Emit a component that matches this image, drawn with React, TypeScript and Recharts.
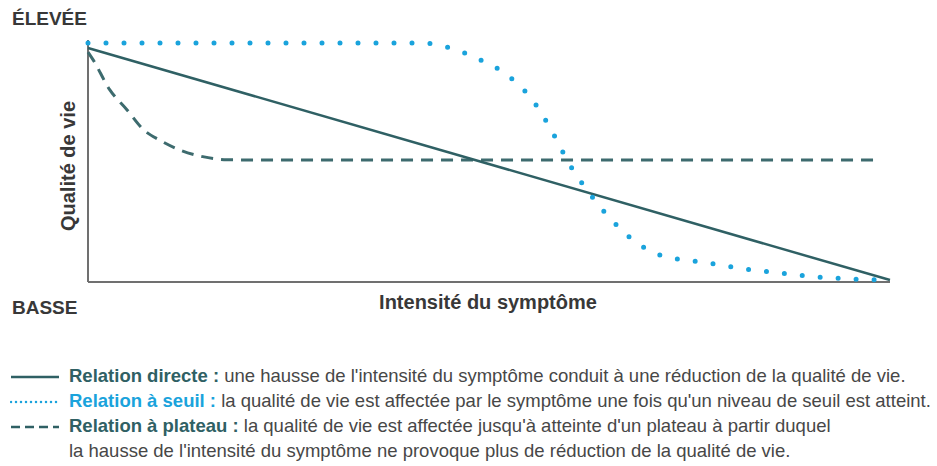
import React from 'react';
import { LineChart, Line, XAxis, YAxis, ReferenceLine } from 'recharts';

// Relation directe (solid)
const directX = [0, 100];
const directY = [96.7, 0.8];

// Relation à plateau (dashed)
const plateauX = [0, 0.6, 2.7, 4.9, 6.9, 9, 11.5, 14.3, 17.3, 22, 98];
const plateauY = [95, 92, 79.5, 71, 63, 58.5, 54.5, 51.8, 50.5, 50.4, 50.4];

// Relation à seuil (dotted)
const seuilX = [0, 41.4, 45.1, 48.9, 52.6, 55.6, 57.9, 60, 62.5, 65.3, 68.8, 71.3, 77.4, 81.9, 86.4, 90.9, 95.4, 100];
const seuilY = [98.8, 98.8, 96.8, 91.8, 84.7, 74.4, 62, 48.8, 36.8, 25.6, 15.3, 11.2, 7.8, 5.4, 3.7, 2.1, 1.2, 0.8];

const legendItems = [
  { label: 'Relation directe :', text: "une hausse de l'intensité du symptôme conduit à une réduction de la qualité de vie.", color: '#2f6064', dash: undefined, cap: 'butt' },
  { label: 'Relation à seuil :', text: "la qualité de vie est affectée par le symptôme une fois qu'un niveau de seuil est atteint.", color: '#1aa3dc', dash: '0 5', cap: 'round' },
  { label: 'Relation à plateau :', text: "la qualité de vie est affectée jusqu'à atteinte d'un plateau à partir duquel", color: '#2f6064', dash: '9 5', cap: 'butt' },
];

const zip = (xs: number[], ys: number[]) => xs.map((x, i) => ({ x, y: ys[i] }));

const textColor = '#383838';
const font = '"Liberation Sans", Arial, sans-serif';

function App() {
  return (
    <div style={{ position: 'absolute', left: 0, top: 0, width: 937, height: 466, background: '#fff', fontFamily: font }}>
      <LineChart width={937} height={300} margin={{ top: 40, right: 47, bottom: 18, left: 88 }}>
        <XAxis type="number" dataKey="x" domain={[0, 100]} hide allowDuplicatedCategory={false} />
        <YAxis type="number" dataKey="y" domain={[0, 100]} hide />
        <ReferenceLine x={0} stroke="#707070" strokeWidth={2} segment={[{ x: 0, y: 0 }, { x: 0, y: 101 }]} ifOverflow="visible" />
        <ReferenceLine y={0} stroke="#707070" strokeWidth={2} segment={[{ x: 0, y: 0 }, { x: 100.3, y: 0 }]} ifOverflow="visible" />
        <Line
          data={zip(plateauX, plateauY)}
          dataKey="y"
          type="monotone"
          stroke="#3d6b6e"
          strokeWidth={3}
          strokeDasharray="12 8"
          dot={false}
          isAnimationActive={false}
        />
        <Line
          data={zip(directX, directY)}
          dataKey="y"
          type="linear"
          stroke="#2f6064"
          strokeWidth={2.5}
          dot={false}
          isAnimationActive={false}
        />
        <Line
          data={zip(seuilX, seuilY)}
          dataKey="y"
          type="monotone"
          stroke="#1aa3dc"
          strokeWidth={5}
          strokeLinecap="round"
          strokeDasharray="0 18"
          dot={false}
          isAnimationActive={false}
        />
      </LineChart>

      <div style={{ position: 'absolute', left: 12, top: 8, fontSize: 19, fontWeight: 700, color: textColor }}>ÉLEVÉE</div>
      <div style={{ position: 'absolute', left: 12, top: 297, fontSize: 19, fontWeight: 700, color: textColor }}>BASSE</div>
      <div style={{ position: 'absolute', left: 0, top: 291, width: 976, textAlign: 'center', fontSize: 20, fontWeight: 700, color: textColor }}>
        Intensité du symptôme
      </div>
      <div
        style={{
          position: 'absolute', left: 68, top: 166, transform: 'translate(-50%, -50%) rotate(-90deg)',
          whiteSpace: 'nowrap', fontSize: 20, fontWeight: 700, color: textColor,
        }}
      >
        Qualité de vie
      </div>

      <div style={{ position: 'absolute', left: 10, top: 363, fontSize: 18.5, color: '#474747', lineHeight: '25px' }}>
        {legendItems.map((item, i) => (
          <div key={i} style={{ whiteSpace: 'nowrap' }}>
            <svg width={50} height={10} style={{ marginRight: 9, verticalAlign: 'middle' }}>
              <line x1={1} y1={5} x2={49} y2={5} stroke={item.color} strokeWidth={2.5}
                strokeDasharray={item.dash} strokeLinecap={item.cap as any} />
            </svg>
            <span style={{ fontWeight: 700, color: item.color }}>{item.label}</span>{' '}
            <span>{item.text}</span>
          </div>
        ))}
        <div style={{ paddingLeft: 59, whiteSpace: 'nowrap' }}>
          la hausse de l'intensité du symptôme ne provoque plus de réduction de la qualité de vie.
        </div>
      </div>
    </div>
  );
}

export default App;
